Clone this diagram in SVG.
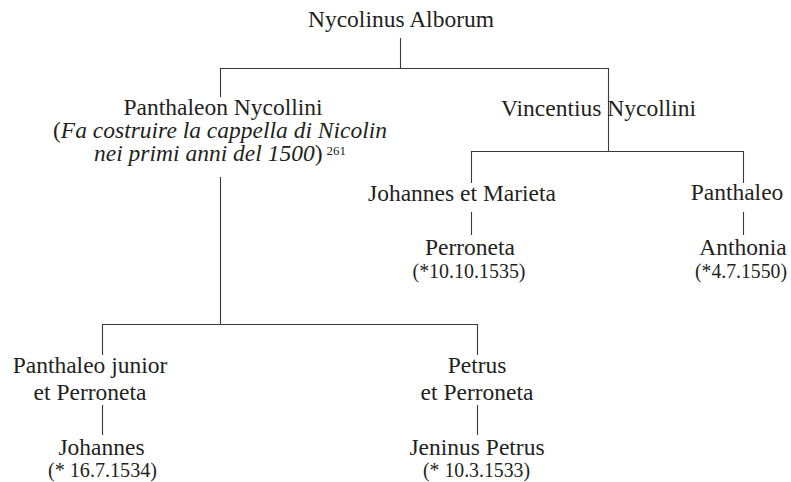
<svg xmlns="http://www.w3.org/2000/svg" width="791" height="482" viewBox="0 0 791 482">
  <style>
    text { font-family: "Liberation Serif", "Times New Roman", serif; font-size: 23.5px; fill: #231f20; text-anchor: middle; }
    .it { font-style: italic; }
    .sup { font-size: 13px; }
    .date { font-size: 20px; }
    .link { stroke: #3a3a3a; stroke-width: 1.1; fill: none; }
  </style>
  <rect width="791" height="482" fill="#ffffff"/>

  <!-- family tree connectors -->
  <g id="connectors" class="link">
    <path d="M400.5,38 V68.5"/>
    <path d="M220.5,97 V68.5 H608.5 V151.5"/>
    <path d="M220.5,177 V324.5"/>
    <path d="M102.5,355 V324.5 H477.5 V355"/>
    <path d="M102.5,405 V435"/>
    <path d="M477.5,405 V435"/>
    <path d="M471.5,183 V151.5 H743.5 V183"/>
    <path d="M471.5,212 V235"/>
    <path d="M743.5,212 V235"/>
  </g>

  <g id="nycolinus-alborum">
    <text x="401" y="27">Nycolinus Alborum</text>
  </g>

  <g id="panthaleon-nycollini">
    <text x="223" y="115">Panthaleon Nycollini</text>
    <text x="220" y="138">(<tspan class="it">Fa costruire la cappella di Nicolin</tspan></text>
    <text x="220" y="161"><tspan class="it">nei primi anni del 1500</tspan>)<tspan class="sup" dx="4" dy="-6">261</tspan></text>
  </g>

  <g id="vincentius-nycollini">
    <text x="598.5" y="116">Vincentius Nycollini</text>
  </g>

  <g id="johannes-et-marieta">
    <text x="462" y="201">Johannes et Marieta</text>
  </g>

  <g id="panthaleo">
    <text x="737" y="200">Panthaleo</text>
  </g>

  <g id="perroneta">
    <text x="470" y="255">Perroneta</text>
    <text class="date" x="469" y="278" textLength="113" lengthAdjust="spacingAndGlyphs">(*10.10.1535)</text>
  </g>

  <g id="anthonia">
    <text x="743" y="255">Anthonia</text>
    <text class="date" x="741" y="278" textLength="92" lengthAdjust="spacingAndGlyphs">(*4.7.1550)</text>
  </g>

  <g id="panthaleo-junior">
    <text x="90" y="373">Panthaleo junior</text>
    <text x="90" y="400">et Perroneta</text>
  </g>

  <g id="petrus">
    <text x="477" y="373">Petrus</text>
    <text x="477" y="400">et Perroneta</text>
  </g>

  <g id="johannes">
    <text x="101.5" y="455">Johannes</text>
    <text class="date" x="102.5" y="477" textLength="109" lengthAdjust="spacingAndGlyphs">(* 16.7.1534)</text>
  </g>

  <g id="jeninus-petrus">
    <text x="477" y="455">Jeninus Petrus</text>
    <text class="date" x="476.5" y="477" textLength="107" lengthAdjust="spacingAndGlyphs">(* 10.3.1533)</text>
  </g>
</svg>
